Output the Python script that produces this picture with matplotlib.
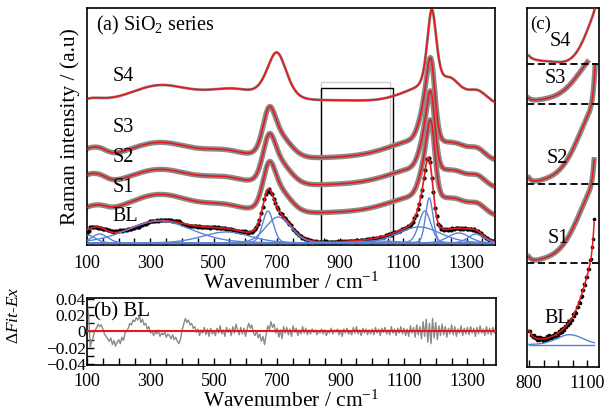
import numpy as np
import matplotlib
matplotlib.use('Agg')
import matplotlib.pyplot as plt
import matplotlib.ticker as ticker
from matplotlib.patches import Rectangle

plt.rcParams['font.family'] = ['Liberation Serif', 'DejaVu Serif']
plt.rcParams['mathtext.fontset'] = 'custom'
plt.rcParams['mathtext.rm'] = 'Liberation Serif'
plt.rcParams['mathtext.it'] = 'Liberation Serif:italic'

# Fitted bands: centre (cm-1), height (a.u.), FWHM (cm-1)
BL_CENTERS = [100, 140, 330, 540, 672, 705, 1010, 1150, 1168, 1182, 1275, 1330]
BL_HEIGHTS = [8, 9, 22, 11, 32, 26, 2, 16, 32, 45, 10, 9]
BL_FWHM    = [60, 60, 240, 180, 40, 95, 160, 160, 45, 28, 80, 60]
BL_BASE    = 2
BL_ETA     = 0.15

S_CENTERS  = [100, 140, 330, 540, 675, 705, 900, 1150, 1170, 1188, 1270, 1335]
S_FWHM     = [60, 60, 250, 160, 45, 90, 350, 240, 45, 30, 80, 60]
S1_HEIGHTS = [6, 6, 23, 9, 35, 24, 4, 19, 31, 58, 8, 9]
S2_HEIGHTS = [10, 8, 20, 9, 35, 24, 4, 19, 31, 59, 8, 9]
S3_HEIGHTS = [9, 8, 20, 9, 35, 24, 4, 20, 33, 63, 8, 9]
S_BASES    = [27, 55, 82]
S_ETA      = 0.2

S4_CENTERS = [110, 330, 560, 700, 900, 1150, 1190, 1250, 1335]
S4_HEIGHTS = [6, 22, 14, 48, 6, 14, 80, 20, 14]
S4_FWHM    = [100, 260, 200, 75, 400, 170, 35, 80, 80]
S4_BASE    = 136
S4_ETA     = 0.45

# BL residual (Fit - Ex), normalised intensity, every 5 cm-1 from 100 to 1400
RESIDUAL = [
    0.036, 0.020, -0.019, -0.012, -0.006, 0.002, 0.004, 0.009, 0.006, 0.008,
    0.003, -0.003, -0.006, -0.009, -0.012, -0.008, -0.016, -0.011, -0.018, -0.013,
    -0.010, -0.015, -0.007, -0.011, -0.002, 0.001, 0.004, 0.010, 0.008, 0.014,
    0.012, 0.017, 0.014, 0.020, 0.011, 0.015, 0.008, 0.010, 0.003, 0.006,
    -0.002, 0.001, -0.005, 0.000, -0.003, 0.002, -0.006, -0.002, -0.004, -0.001,
    -0.007, -0.003, -0.005, -0.009, -0.004, -0.010, -0.007, -0.012, -0.015, -0.009,
    0.002, 0.009, 0.016, 0.011, 0.014, 0.008, 0.010, 0.004, 0.006, -0.001,
    0.003, -0.005, 0.002, -0.002, 0.005, -0.004, 0.003, -0.006, 0.004, -0.003,
    0.001, -0.005, 0.004, -0.002, 0.007, -0.003, 0.002, -0.006, 0.005, -0.001,
    0.003, -0.005, 0.006, -0.002, 0.009, 0.002, -0.004, 0.005, -0.003, 0.004,
    -0.006, 0.003, 0.010, 0.004, 0.008, -0.002, -0.005, 0.001, -0.008, -0.003,
    -0.012, -0.006, -0.016, -0.004, 0.007, 0.002, 0.012, 0.005, 0.009, -0.002,
    0.004, -0.007, 0.002, -0.009, 0.006, -0.002, 0.005, -0.004, 0.003, -0.006,
    0.007, -0.001, 0.004, -0.005, 0.002, -0.003, 0.006, -0.002, 0.004, -0.004,
    0.002, -0.003, 0.003, -0.001, 0.002, -0.004, 0.001, -0.002, 0.003, -0.003,
    0.002, -0.005, 0.001, -0.002, 0.004, -0.003, 0.002, -0.001, 0.003, -0.004,
    0.002, -0.006, 0.003, -0.002, 0.004, -0.003, 0.001, -0.004, 0.005, -0.002,
    0.006, -0.003, 0.002, -0.005, 0.004, -0.002, 0.003, -0.004, 0.002, -0.003,
    0.003, -0.004, 0.005, -0.002, 0.003, -0.005, 0.004, -0.001, 0.005, -0.003,
    0.002, -0.004, 0.006, -0.002, 0.003, -0.005, 0.004, -0.002, 0.006, -0.003,
    0.004, -0.005, 0.003, -0.006, 0.007, -0.002, 0.005, -0.007, 0.008, -0.004,
    0.006, -0.009, 0.012, -0.006, 0.015, -0.013, 0.010, -0.015, 0.016, -0.008,
    0.011, -0.010, 0.007, -0.005, 0.009, -0.004, 0.006, -0.007, 0.004, -0.003,
    0.008, -0.004, 0.006, -0.006, 0.003, -0.002, 0.007, -0.005, 0.004, -0.003,
    0.005, -0.004, 0.006, -0.002, 0.004, -0.006, 0.005, -0.003, 0.007, -0.002,
    0.003, -0.005, 0.006, -0.003, 0.004, -0.004, 0.005, -0.002, 0.006, -0.004,
    0.003,
]
RES_X = np.arange(100, 1401, 5)

# zoomed panel (c): vertical offset, gain and last wavenumber of each trace
C_NAMES    = ['BL', 'S1', 'S2', 'S3', 'S4']
C_OFFSETS  = [28, 107, 186, 267, 305]
C_GAINS    = [5.0, 4.5, 4.5, 2.5, 4.0]
C_ENDS     = [1135, 1135, 1140, 1100, 1150]
C_START    = 800
C_DIVIDERS = [104, 183, 263, 303]

RED = '#e8191e'
GRAY = '#8a8a8a'
BLUE = '#5a83d8'


def band(x, c, h, w, eta):
    u = (x - c) / w
    return h * (eta / (1 + 4 * u ** 2) + (1 - eta) * np.exp(-4 * np.log(2) * u ** 2))


def spectrum(x, centers, heights, fwhm, base, eta):
    y = np.full_like(x, base, dtype=float)
    for c, h, w in zip(centers, heights, fwhm):
        y += band(x, c, h, w, eta)
    return y


def bl_fit(x):
    return spectrum(x, BL_CENTERS, BL_HEIGHTS, BL_FWHM, BL_BASE, BL_ETA)


def s_fit(x, k):
    hs = [S1_HEIGHTS, S2_HEIGHTS, S3_HEIGHTS][k]
    return spectrum(x, S_CENTERS, hs, S_FWHM, S_BASES[k], S_ETA)


def s4_fit(x):
    return spectrum(x, S4_CENTERS, S4_HEIGHTS, S4_FWHM, S4_BASE, S4_ETA)


wn = np.linspace(100, 1400, 1301)
bl_scale = bl_fit(wn).max()
bl_data = bl_fit(RES_X) - np.array(RESIDUAL) * bl_scale

fig = plt.figure(figsize=(6.09, 4.17), dpi=100)
ax_a = fig.add_axes([0.1429, 0.4125, 0.670, 0.5683])
ax_b = fig.add_axes([0.1429, 0.1247, 0.6715, 0.1607])
ax_c = fig.add_axes([0.8654, 0.1199, 0.1182, 0.8609])

for ax in (ax_a, ax_b, ax_c):
    for sp in ax.spines.values():
        sp.set_linewidth(1.2)
    ax.tick_params(direction='in', labelsize=13, width=1.0, length=5,
                   top=False, right=False, pad=5)
    ax.tick_params(which='minor', direction='in', width=1.0, length=5,
                   top=False, right=False)

# ---- (a) stacked spectra
ax_a.plot(wn, s4_fit(wn), color=GRAY, lw=2.0, zorder=2)
ax_a.plot(wn, s4_fit(wn), color=RED, lw=1.2, zorder=3)
for k in range(3):
    ax_a.plot(wn, s_fit(wn, k), color=GRAY, lw=3.8, zorder=2)
    ax_a.plot(wn, s_fit(wn, k), color=RED, lw=1.2, zorder=3)

ax_a.plot(RES_X, bl_data, 'o', color='black', ms=3.0, mew=0, zorder=2)
ax_a.plot(wn, bl_fit(wn), color=RED, lw=1.2, zorder=3)
ax_a.axhline(BL_BASE, color=BLUE, lw=1.0, zorder=4)
for c, h, w in zip(BL_CENTERS, BL_HEIGHTS, BL_FWHM):
    ax_a.plot(wn, BL_BASE + band(wn, c, h, w, BL_ETA), color=BLUE, lw=1.0, zorder=4)

ax_a.add_patch(Rectangle((840, 0), 219, 163, fill=False, edgecolor='#cfcfcf', lw=1.0, zorder=1))
ax_a.add_patch(Rectangle((840, 0), 227, 157, fill=False, edgecolor='black', lw=1.0, zorder=1))

ax_a.set_xlim(100, 1390)
ax_a.set_ylim(0, 237)
ax_a.xaxis.set_major_locator(ticker.FixedLocator(range(100, 1400, 200)))
ax_a.xaxis.set_minor_locator(ticker.MultipleLocator(50))
ax_a.set_yticks([])
ax_a.tick_params(axis='x', pad=7)
ax_a.set_xlabel('Wavenumber / cm$^{-1}$', fontsize=15.5, labelpad=1)
ax_a.set_ylabel('Raman intensity / (a.u)', fontsize=15.5, labelpad=5)
ax_a.text(128, 220, '(a) SiO$_2$ series', fontsize=14.5, va='center')
for name, y in zip(['S4', 'S3', 'S2', 'S1', 'BL'], [169, 117, 87, 57, 28]):
    ax_a.text(180, y, name, fontsize=14.5, va='center')

# ---- (b) residual of the BL fit
ax_b.plot(RES_X, RESIDUAL, color=GRAY, lw=1.0, zorder=2)
ax_b.axhline(0, color=RED, lw=1.5, zorder=3)
ax_b.set_xlim(100, 1390)
ax_b.set_ylim(-0.041, 0.041)
ax_b.xaxis.set_major_locator(ticker.FixedLocator(range(100, 1400, 200)))
ax_b.xaxis.set_minor_locator(ticker.MultipleLocator(50))
ax_b.yaxis.set_major_locator(ticker.FixedLocator([-0.04, -0.02, 0, 0.02, 0.04]))
ax_b.yaxis.set_minor_locator(ticker.MultipleLocator(0.01))
ax_b.yaxis.set_major_formatter(ticker.FuncFormatter(
    lambda v, p: '0' if abs(v) < 1e-9 else f'{v:.2f}'.replace('-', '\u2212')))
ax_b.tick_params(axis='y', pad=1, labelsize=12.5)
ax_b.tick_params(axis='x', pad=6)
ax_b.set_xlabel('Wavenumber / cm$^{-1}$', fontsize=15.5, labelpad=0)
ax_b.set_ylabel(r'$\Delta\mathit{Fit}$-$\mathit{Ex}$', fontsize=12.5)
ax_b.yaxis.set_label_coords(-0.16, 0.74)
ax_b.text(122, 0.024, '(b) BL', fontsize=15, va='center')

# ---- (c) zoom on the 800-1150 cm-1 region
traces = [bl_fit, lambda x: s_fit(x, 0), lambda x: s_fit(x, 1),
          lambda x: s_fit(x, 2), s4_fit]
for name, f, off, g, end in zip(C_NAMES, traces, C_OFFSETS, C_GAINS, C_ENDS):
    xw = np.linspace(C_START, end, 300)
    yw = f(xw)
    ref = yw.min()
    if name == 'BL':
        m = (RES_X >= C_START) & (RES_X <= end)
        ax_c.plot(RES_X[m], off + g * (bl_data[m] - ref), 'o', color='black',
                  ms=2.6, mew=0, zorder=2)
        ax_c.plot(xw, off + g * (BL_BASE - ref) + 0 * xw, color=BLUE, lw=1.0, zorder=4)
        ax_c.plot(xw, off + g * (BL_BASE + band(xw, 1010, 2, 160, BL_ETA) - ref),
                  color=BLUE, lw=1.0, zorder=4)
    elif name == 'S4':
        ax_c.plot(xw, off + g * (yw - ref), color=GRAY, lw=2.0, zorder=2)
    else:
        ax_c.plot(xw, off + g * (yw - ref), color=GRAY, lw=3.8, zorder=2)
    ax_c.plot(xw, off + g * (yw - ref), color=RED, lw=1.1, zorder=3)

for y in C_DIVIDERS:
    ax_c.axhline(y, color='black', lw=1.3, ls=(0, (4, 2)), zorder=5)

ax_c.set_xlim(790, 1160)
ax_c.set_ylim(0, 359)
ax_c.set_yticks([])
ax_c.xaxis.set_major_locator(ticker.FixedLocator([800, 1100]))
ax_c.xaxis.set_minor_locator(ticker.FixedLocator([875, 950, 1025]))
ax_c.tick_params(axis='x', pad=5.5)
ax_c.text(858, 343, '(c)', fontsize=13.5, ha='center', va='center')
for name, x, y in zip(['S4', 'S3', 'S2', 'S1', 'BL'],
                      [960, 936, 946, 950, 946], [326, 289, 209, 129, 49]):
    ax_c.text(x, y, name, fontsize=14.5, ha='center', va='center')

fig.savefig('out.png', dpi=100)
